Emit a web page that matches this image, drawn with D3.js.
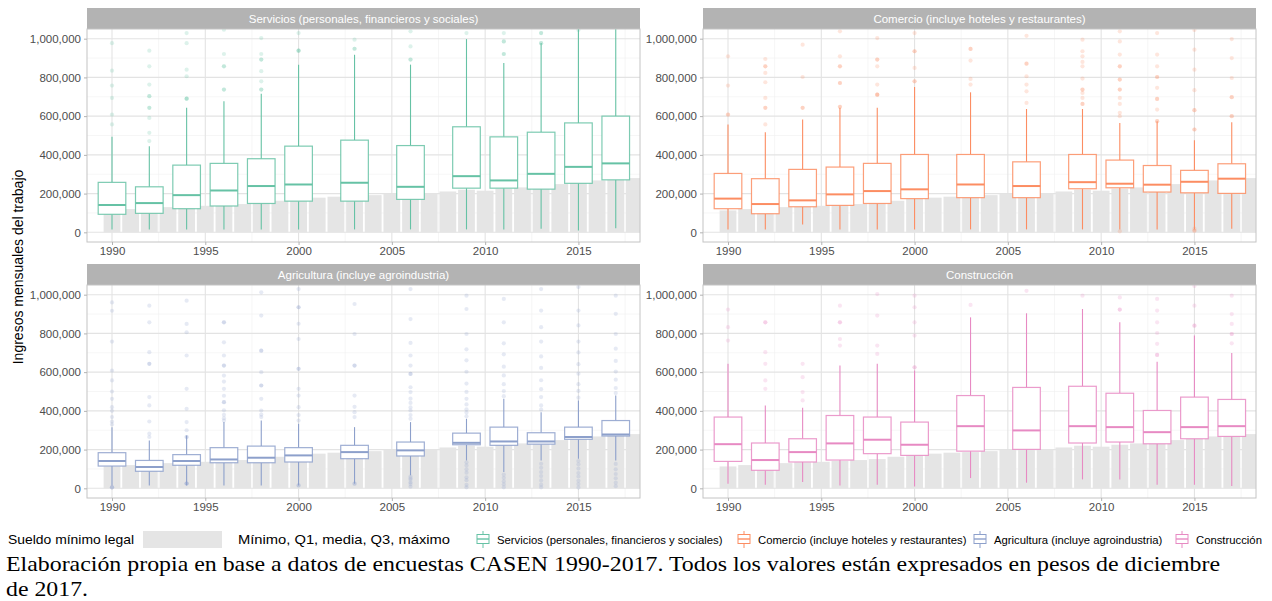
<!DOCTYPE html>
<html lang="es">
<head>
<meta charset="utf-8">
<title>Ingresos mensuales del trabajo por sector</title>
<script src="https://d3js.org/d3.v7.min.js"></script>
<style>
  body { margin: 0; background: #fff; }
  svg { display: block; }
  .chart text { font-family: "Liberation Sans", Arial, sans-serif; }
  .tick text { fill: #4d4d4d; font-size: 11.5px; }
  .tick line { stroke: #b3b3b3; }
  .chart text.strip-label { fill: #ffffff; font-size: 11.5px; text-anchor: middle; }
  .chart text.caption { font-family: "Liberation Serif", "Times New Roman", serif; font-size: 22px; fill: #000; }
</style>
</head>
<body>
<svg class="chart" width="1272" height="601"></svg>
<script>
// survey years (one box per year and sector)
const years = [1990, 1992, 1994, 1996, 1998, 2000, 2003, 2006, 2009, 2011, 2013, 2015, 2017];

const sectors = [
  "Servicios (personales, financieros y sociales)",
  "Comercio (incluye hoteles y restaurantes)",
  "Agricultura (incluye agroindustria)",
  "Construcción"
];
const sectorColors = ["#66c2a5", "#fc8d62", "#8da0cb", "#e78ac3"];

// minimum legal wage, thousands of Dec-2017 pesos
const wageYears = d3.range(1990, 2019);
const wageValues = [113, 120, 125, 130, 134, 137, 141, 146, 151, 163, 173, 179, 184, 187, 192,
                    198, 199, 199, 211, 220, 215, 225, 232, 242, 249, 259, 268, 278, 280];

// [min, Q1, median, Q3, max] in thousands, one row per survey year
const servicios = [
  [15, 93, 141, 258, 493], [15, 98, 151, 235, 445], [15, 122, 192, 347, 643],
  [15, 136, 216, 356, 677], [15, 149, 239, 380, 715], [15, 161, 247, 445, 866],
  [15, 161, 256, 476, 917], [15, 170, 235, 448, 866], [15, 228, 290, 545, 998],
  [15, 228, 268, 493, 874], [19, 223, 302, 517, 978], [10, 253, 338, 565, 1100],
  [21, 271, 356, 600, 1100]
];
const comercio = [
  [15, 122, 174, 304, 557], [15, 96, 146, 277, 517], [41, 132, 165, 325, 582],
  [15, 139, 196, 337, 643], [15, 149, 213, 356, 643], [15, 174, 222, 402, 751],
  [15, 179, 247, 402, 723], [15, 179, 239, 364, 637], [15, 225, 259, 402, 637],
  [15, 230, 251, 373, 565], [15, 208, 246, 345, 574], [15, 204, 261, 320, 476],
  [19, 201, 277, 354, 569]
];
const agricultura = [
  [15, 115, 141, 184, 316], [15, 88, 110, 144, 247], [15, 119, 141, 174, 273],
  [15, 132, 149, 210, 342], [15, 132, 158, 218, 350], [15, 136, 170, 210, 333],
  [24, 153, 187, 222, 316], [67, 167, 196, 239, 342], [144, 225, 235, 285, 359],
  [84, 222, 242, 316, 462], [144, 228, 242, 287, 393], [153, 253, 265, 316, 454],
  [144, 270, 278, 350, 479]
];
const construccion = [
  [24, 139, 228, 368, 643], [19, 93, 146, 234, 428], [33, 136, 187, 256, 416],
  [15, 146, 232, 376, 634], [19, 179, 251, 368, 643], [10, 170, 225, 342, 608],
  [53, 192, 321, 479, 883], [29, 201, 299, 521, 904], [46, 234, 321, 527, 926],
  [46, 239, 316, 491, 857], [19, 230, 290, 402, 654], [19, 256, 316, 471, 789],
  [12, 268, 321, 459, 699]
];

// outliers in thousands (repeated values = overlapping points)
const serviciosOut = [
  [557, 608, 694, 758, 835, 977],
  [471, 514, 591, 643, 643, 703, 703, 763, 857, 938],
  [690, 690, 690, 806, 840, 977, 1029],
  [737, 737, 857, 857, 921, 1046],
  [737, 737, 780, 832, 892, 892, 921, 1003],
  [938, 938, 938, 1029],
  [948, 948, 995],
  [892, 892, 960, 1038],
  [1029],
  [921, 921, 986, 986, 1029],
  [977, 977, 1029, 1029],
  [1045],
  []
];
const comercioOut = [
  [608, 608, 758, 909],
  [557, 643, 643, 694, 775, 823, 857, 857, 895],
  [643, 643, 802, 969],
  [648, 648, 771, 771, 857, 857, 909, 1038],
  [711, 711, 711, 763, 857, 892, 892, 1003],
  [780, 780, 849, 935, 935, 1029],
  [763, 792, 887, 947, 947],
  [668, 728, 763, 806, 871, 871, 1015],
  [663, 663, 694, 720, 737, 737, 794, 857, 880, 909, 935, 995],
  [5, 600, 617, 663, 694, 737, 737, 789, 789, 857, 857, 918, 986, 1038],
  [574, 574, 634, 689, 689, 746, 802, 802, 857, 918, 1029],
  [8, 8, 19, 531, 531, 631, 631, 734, 840, 943, 1045],
  [600, 600, 698, 698, 797, 900, 998]
];
const agriculturaOut = [
  [5, 5, 5, 330, 345, 368, 400, 419, 462, 500, 557, 608, 758, 917, 960],
  [265, 282, 345, 428, 471, 643, 643, 703, 857, 943],
  [25, 25, 25, 265, 265, 300, 342, 411, 514, 686, 806, 849, 969],
  [350, 362, 380, 403, 445, 445, 478, 514, 551, 582, 634, 634, 686, 754, 857, 857],
  [368, 381, 402, 462, 531, 531, 600, 711, 711, 892, 1012],
  [15, 15, 350, 378, 419, 479, 514, 617, 617, 771, 850, 935, 935, 1029],
  [24, 24, 368, 393, 421, 479, 634, 634, 797, 952],
  [8, 22, 31, 44, 52, 61, 359, 378, 402, 418, 441, 463, 497, 522, 591, 591, 634, 686, 751, 874, 1029],
  [5, 18, 42, 57, 81, 98, 118, 134, 372, 391, 408, 433, 462, 498, 541, 602, 661, 718, 797, 926, 995],
  [5, 21, 36, 54, 71, 476, 502, 538, 583, 628, 692, 749, 857, 978],
  [5, 19, 41, 63, 84, 106, 127, 407, 428, 471, 512, 558, 622, 681, 758, 832, 918, 1029],
  [4, 22, 39, 61, 79, 102, 124, 141, 468, 503, 538, 592, 641, 702, 758, 841, 918, 1040],
  [11, 29, 52, 74, 98, 126, 492, 518, 561, 603, 658, 721, 797, 901, 995]
];
const construccionOut = [
  [763, 832, 923],
  [514, 557, 643, 703, 857, 857],
  [454, 497, 574, 643],
  [737, 771, 857, 857, 943],
  [694, 737, 892, 1003],
  [625, 625, 789, 857, 935, 995],
  [947],
  [1020],
  [995],
  [923, 923, 986],
  [689, 689, 746, 802, 857, 918, 978],
  [840, 840, 943, 1045],
  [749, 797, 797, 849, 900, 995]
];

const yTicks = [0, 200000, 400000, 600000, 800000, 1000000];
const xTicks = [1990, 1995, 2000, 2005, 2010, 2015];

const boxStats = [servicios, comercio, agricultura, construccion];
const boxOutliers = [serviciosOut, comercioOut, agriculturaOut, construccionOut];

// layout
const panelW = 553, panelH = 213, stripH = 21;
const panelPos = [[87, 29], [703, 29], [87, 285], [703, 285]];
const boxWidth = 1.48;   // in years
const barWidth = 0.9;

const x = d3.scaleLinear().domain([1988.66, 2018.3]).range([0, panelW]);
const y = d3.scaleLinear().domain([-50000, 1050000]).range([panelH, 0]);

const svg = d3.select("svg.chart");

sectors.forEach(function(name, i) {
  const [px, py] = panelPos[i];
  const color = sectorColors[i];
  const g = svg.append("g").attr("transform", `translate(${px},${py})`);

  // strip
  g.append("rect")
    .attr("x", 0).attr("y", -stripH)
    .attr("width", panelW).attr("height", stripH)
    .attr("fill", "#b3b3b3");
  g.append("text").attr("class", "strip-label")
    .attr("x", panelW / 2).attr("y", -stripH / 2 + 4)
    .text(name);

  g.append("clipPath").attr("id", "clip" + i)
    .append("rect").attr("width", panelW).attr("height", panelH);

  const inner = g.append("g").attr("clip-path", `url(#clip${i})`);

  // grid
  const yMinor = [-100000, 100000, 300000, 500000, 700000, 900000];
  inner.selectAll(".gy-minor").data(yMinor).enter().append("line")
    .attr("x1", 0).attr("x2", panelW)
    .attr("y1", d => y(d)).attr("y2", d => y(d))
    .attr("stroke", "#f0f0f0").attr("stroke-width", 0.6);
  inner.selectAll(".gx-minor").data([1987.5, 1992.5, 1997.5, 2002.5, 2007.5, 2012.5, 2017.5]).enter().append("line")
    .attr("y1", 0).attr("y2", panelH)
    .attr("x1", d => x(d)).attr("x2", d => x(d))
    .attr("stroke", "#f0f0f0").attr("stroke-width", 0.6);
  inner.selectAll(".gy").data(yTicks).enter().append("line")
    .attr("x1", 0).attr("x2", panelW)
    .attr("y1", d => y(d)).attr("y2", d => y(d))
    .attr("stroke", "#e3e3e3").attr("stroke-width", 1.1);
  inner.selectAll(".gx").data(xTicks).enter().append("line")
    .attr("y1", 0).attr("y2", panelH)
    .attr("x1", d => x(d)).attr("x2", d => x(d))
    .attr("stroke", "#e3e3e3").attr("stroke-width", 1.1);

  // minimum wage bars
  inner.selectAll(".wage").data(wageYears).enter().append("rect")
    .attr("x", d => x(d - barWidth / 2))
    .attr("width", x(barWidth) - x(0))
    .attr("y", (d, j) => y(wageValues[j] * 1000))
    .attr("height", (d, j) => y(0) - y(wageValues[j] * 1000))
    .attr("fill", "#e5e5e5");

  // boxes
  const stats = boxStats[i];
  const outs = boxOutliers[i];
  years.forEach(function(yr, j) {
    const [mn, q1, md, q3, mx] = stats[j].map(v => v * 1000);
    const cx = x(yr);
    const hw = (x(boxWidth) - x(0)) / 2;
    const b = inner.append("g");
    b.append("line")
      .attr("x1", cx).attr("x2", cx).attr("y1", y(q3)).attr("y2", y(mx))
      .attr("stroke", color).attr("stroke-width", 1.1);
    b.append("line")
      .attr("x1", cx).attr("x2", cx).attr("y1", y(q1)).attr("y2", y(mn))
      .attr("stroke", color).attr("stroke-width", 1.1);
    b.append("rect")
      .attr("x", cx - hw).attr("width", 2 * hw)
      .attr("y", y(q3)).attr("height", y(q1) - y(q3))
      .attr("fill", "#fff").attr("stroke", color).attr("stroke-opacity", 0.85)
      .attr("stroke-width", 1.2);
    b.append("line")
      .attr("x1", cx - hw).attr("x2", cx + hw).attr("y1", y(md)).attr("y2", y(md))
      .attr("stroke", color).attr("stroke-width", 2);
    b.selectAll("circle").data(outs[j]).enter().append("circle")
      .attr("cx", cx).attr("cy", d => y(d * 1000)).attr("r", 2.1)
      .attr("fill", color).attr("fill-opacity", 0.22);
  });

  // panel border
  g.append("rect")
    .attr("width", panelW).attr("height", panelH)
    .attr("fill", "none").attr("stroke", "#c4c4c4").attr("stroke-width", 1);

  // axes
  const ya = g.append("g")
    .call(d3.axisLeft(y).tickValues(yTicks).tickSize(3).tickPadding(3).tickFormat(d3.format(",")));
  ya.select(".domain").remove();
  const xa = g.append("g").attr("transform", `translate(0,${panelH})`)
    .call(d3.axisBottom(x).tickValues(xTicks).tickSize(3).tickPadding(2).tickFormat(d3.format("d")));
  xa.select(".domain").remove();
});

// y axis title
svg.append("text")
  .attr("transform", "translate(23,267) rotate(-90)")
  .attr("text-anchor", "middle")
  .style("font-size", "14px").attr("fill", "#000")
  .text("Ingresos mensuales del trabajo");

// legend
const legend = svg.append("g").attr("transform", "translate(0,539)");
legend.append("text").attr("x", 8).attr("y", 5).style("font-size", "13px")
  .attr("textLength", 126).attr("lengthAdjust", "spacingAndGlyphs")
  .text("Sueldo mínimo legal");
legend.append("rect").attr("x", 143).attr("y", -8).attr("width", 79).attr("height", 17).attr("fill", "#e5e5e5");
legend.append("text").attr("x", 238).attr("y", 5).style("font-size", "13px")
  .attr("textLength", 212).attr("lengthAdjust", "spacingAndGlyphs")
  .text("Mínimo, Q1, media, Q3, máximo");

const legendX = [476, 737, 973, 1175];
sectors.forEach(function(name, i) {
  const k = legend.append("g").attr("transform", `translate(${legendX[i]},0)`);
  const c = sectorColors[i];
  k.append("line").attr("x1", 7).attr("x2", 7).attr("y1", -8).attr("y2", 9).attr("stroke", c).attr("stroke-width", 1);
  k.append("rect").attr("x", 1).attr("y", -4.5).attr("width", 12).attr("height", 9)
    .attr("fill", "#fff").attr("stroke", c).attr("stroke-width", 1);
  k.append("line").attr("x1", 1).attr("x2", 13).attr("y1", 0).attr("y2", 0).attr("stroke", c).attr("stroke-width", 1.4);
  k.append("text").attr("x", 21).attr("y", 4.5).style("font-size", "11.3px").text(name);
});

// caption
svg.append("text").attr("class", "caption").attr("x", 6).attr("y", 571)
  .attr("textLength", 1214).attr("lengthAdjust", "spacingAndGlyphs")
  .text("Elaboración propia en base a datos de encuestas CASEN 1990-2017. Todos los valores están expresados en pesos de diciembre");
svg.append("text").attr("class", "caption").attr("x", 6).attr("y", 596)
  .attr("textLength", 82).attr("lengthAdjust", "spacingAndGlyphs")
  .text("de 2017.");
</script>
</body>
</html>
